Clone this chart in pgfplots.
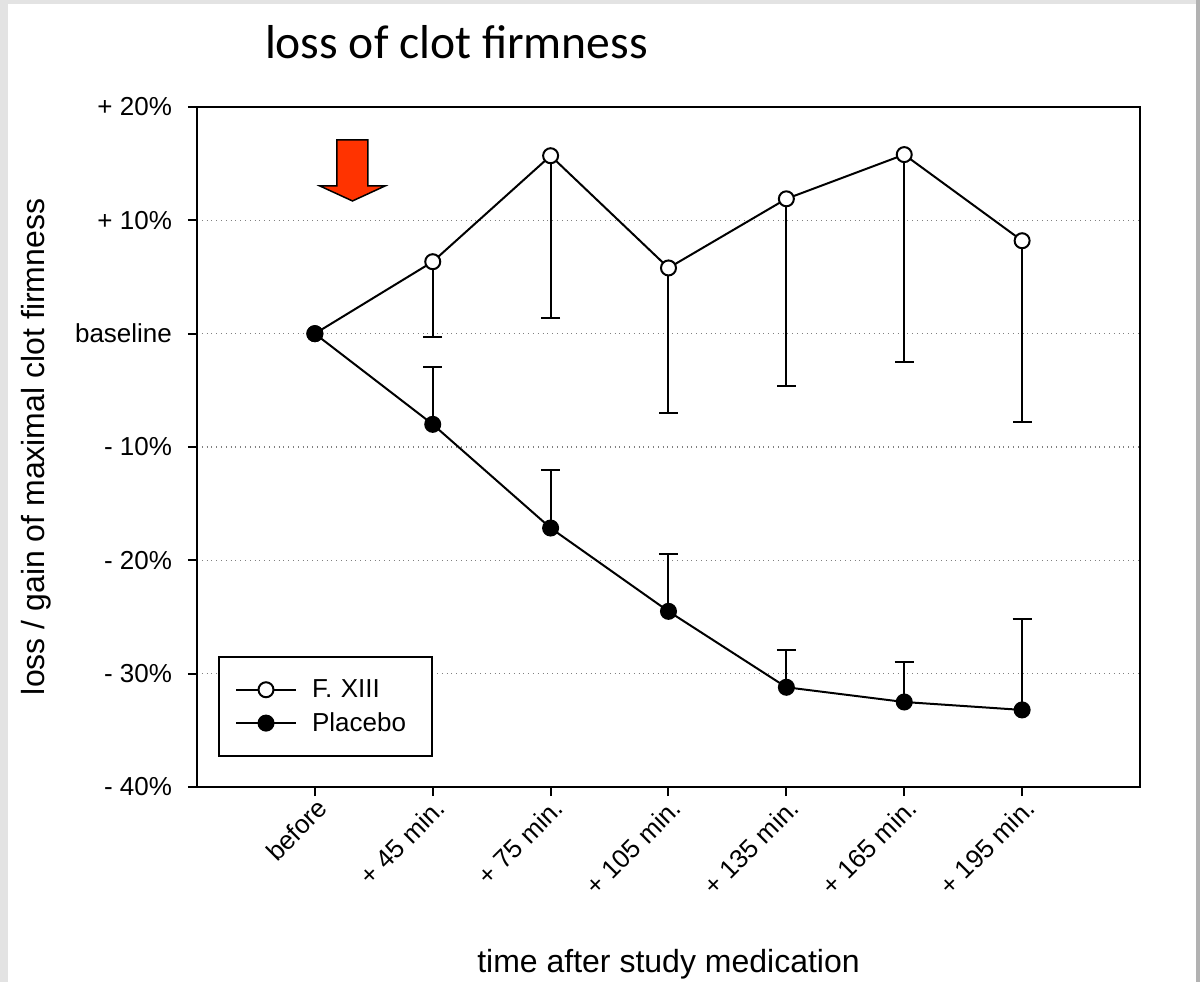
\documentclass[border=0pt]{standalone}
\usepackage{fontspec}
\setmainfont{Liberation Sans}
\newfontfamily\titlefont{Carlito}
\usepackage{pgfplots}
\usepackage{pgfplotstable}
\pgfplotsset{compat=1.18}
\definecolor{arrowred}{HTML}{FF3300}

% x: time point index, f/fe: F. XIII mean and lower error, p/pe: placebo mean and upper error
\pgfplotstableread{
x f     fe    p      pe
0 0     0     0      0
1 6.35  6.65  -8.0   5.1
2 15.7  14.3  -17.15 5.15
3 5.8   12.8  -24.5  5.1
4 11.9  16.5  -31.2  3.3
5 15.8  18.3  -32.5  3.5
6 8.2   16.0  -33.2  8.0
}\clotdata

\begin{document}
\begin{tikzpicture}
% slide background
\fill[gray!22] (-98.5pt,-97.5pt) rectangle (501.5pt,393.5pt);
\fill[white] (-94.5pt,-97.5pt) rectangle (499.5pt,391.5pt);
\fill[gray!60] (499.5pt,-97.5pt) rectangle (501.5pt,393.5pt);

\begin{axis}[
    scale only axis,
    width=471.5pt, height=340pt,
    xmin=-1, xmax=7, ymin=-40, ymax=20,
    xtick={0,...,6},
    xticklabels={before,+ 45 min.,+ 75 min.,+ 105 min.,+ 135 min.,+ 165 min.,+ 195 min.},
    ytick={-40,-30,...,20},
    yticklabels={- 40\%,- 30\%,- 20\%,- 10\%,baseline,+ 10\%,+ 20\%},
    tick pos=left, tick align=outside, major tick length=4.5pt,
    axis line style={line width=1pt},
    every tick/.style={black, line width=1pt},
    tick label style={font=\fontsize{13}{15}\selectfont},
    xticklabel style={rotate=45, anchor=east, xshift=3.5pt, yshift=-5.5pt},
    yticklabel style={xshift=-4.5pt},
    ymajorgrids,
    grid style={dotted, gray, line width=0.6pt},
    title={loss of clot firmness},
    title style={at={(axis description cs:0.2752,1.053)}, anchor=base,
        font=\titlefont\fontsize{23.8}{28}\selectfont},
    xlabel={time after study medication},
    xlabel style={at={(axis description cs:0.5,-0.273)}, anchor=base,
        font=\fontsize{16}{19}\selectfont},
    ylabel={loss / gain of maximal clot firmness},
    ylabel style={at={(axis description cs:-0.1612,0.5)}, anchor=base,
        font=\fontsize{16}{19}\selectfont},
    legend style={at={(0.0223,0.0441)}, anchor=south west, draw=black,
        line width=1pt, font=\fontsize{13}{15}\selectfont,
        inner xsep=8pt, inner ysep=9pt, row sep=2pt,
        /tikz/every odd column/.append style={column sep=5.5pt},
        /tikz/column 2/.style={nodes={text width=50pt}}},
    legend cell align=left,
    legend image code/.code={
        \draw[mark repeat=2, mark phase=2] plot coordinates {(0pt,0pt) (15pt,0pt) (30pt,0pt)};
    },
]
% error bars (drawn first so the markers sit on top)
\addplot[forget plot, draw=none, mark=none,
    error bars/.cd, y dir=minus, y explicit,
    error bar style={draw=black, solid, line width=1pt},
    error mark options={draw=black, rotate=90, mark size=4.75pt, line width=1pt}]
    table[x=x, y=f, y error=fe, skip coords between index={0}{1}] {\clotdata};
\addplot[forget plot, draw=none, mark=none,
    error bars/.cd, y dir=plus, y explicit,
    error bar style={draw=black, solid, line width=1pt},
    error mark options={draw=black, rotate=90, mark size=4.75pt, line width=1pt}]
    table[x=x, y=p, y error=pe, skip coords between index={0}{1}] {\clotdata};

\addplot[black, line width=1pt, mark=*, mark size=3.75pt,
    mark options={fill=white, draw=black, line width=1pt}]
    table[x=x, y=f] {\clotdata};
\addlegendentry{F. XIII}
\addplot[black, line width=1pt, mark=*, mark size=3.75pt,
    mark options={fill=black, draw=black, line width=1pt}]
    table[x=x, y=p] {\clotdata};
\addlegendentry{Placebo}

% medication arrow
\draw[fill=arrowred, line width=0.75pt]
    (axis cs:0.187,17.09) -- (axis cs:0.450,17.09) -- (axis cs:0.450,13.03)
    -- (axis cs:0.595,13.03) -- (axis cs:0.319,11.71) -- (axis cs:0.043,13.03)
    -- (axis cs:0.187,13.03) -- cycle;
\end{axis}
\pgfresetboundingbox
\useasboundingbox (-98.5pt,-97.5pt) rectangle (501.5pt,393.5pt);
\end{tikzpicture}
\end{document}
